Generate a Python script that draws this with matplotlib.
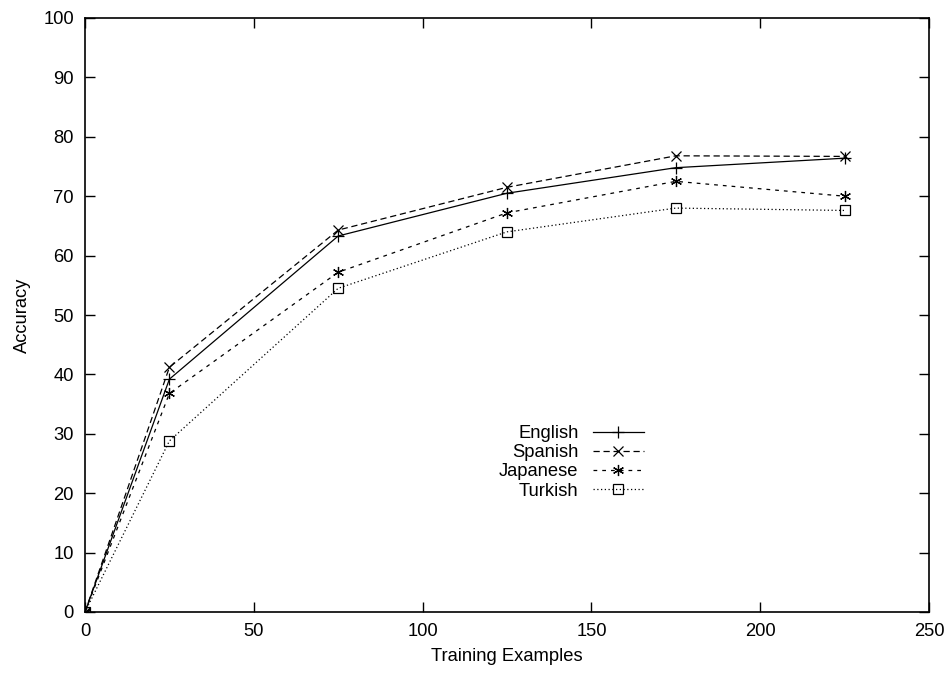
import matplotlib
matplotlib.use("Agg")
import matplotlib.pyplot as plt

plt.rcParams['font.family'] = ['Liberation Sans', 'DejaVu Sans']

x = [0, 25, 75, 125, 175, 225]
english = [0, 39.2, 63.3, 70.5, 74.8, 76.4]
spanish = [0, 41.2, 64.3, 71.5, 76.8, 76.7]
japanese = [0, 36.8, 57.2, 67.2, 72.5, 70.0]
turkish = [0, 28.8, 54.5, 64.0, 68.0, 67.6]
xticks = [0, 50, 100, 150, 200, 250]
yticks = [0, 10, 20, 30, 40, 50, 60, 70, 80, 90, 100]

fs = 13.2
fig = plt.figure(figsize=(9.5, 6.73), dpi=100)
ax = fig.add_axes([85/950, 1-612/673, (929-85)/950, (612-18)/673])

lw = 0.9
ax.plot(x, english, color='black', lw=lw, ls='-', marker='+', ms=9, mew=0.9, label='English')
ax.plot(x, spanish, color='black', lw=lw, ls=(0, (5, 3)), marker='x', ms=7, mew=0.9, label='Spanish')
ax.plot(x, japanese, color='black', lw=lw, ls=(0, (3, 4)), marker=(6, 2, 0), ms=8, mew=0.9, label='Japanese')
ax.plot(x, turkish, color='black', lw=lw, ls=(0, (1, 2)), marker='s', ms=6.5, mew=0.9, mfc='none', label='Turkish')

ax.set_xlim(0, 250)
ax.set_ylim(0, 100)
ax.set_xticks(xticks)
ax.set_yticks(yticks)
ax.tick_params(direction='in', length=7, width=1, top=True, right=True, labelsize=fs, pad=8)
for s in ax.spines.values():
    s.set_linewidth(1.2)
ax.set_xlabel('Training Examples', fontsize=fs, labelpad=6)
ax.set_ylabel('Accuracy', fontsize=fs, labelpad=9)

leg = ax.legend(loc='center', bbox_to_anchor=(0.5764, 0.252), frameon=False,
                fontsize=fs, markerfirst=False, handlelength=2.8, handletextpad=0.76,
                labelspacing=0.12, borderpad=0)
for t in leg.get_texts():
    t.set_ha('right')
leg._legend_box.align = 'right'

fig.savefig('out.png', dpi=100)
